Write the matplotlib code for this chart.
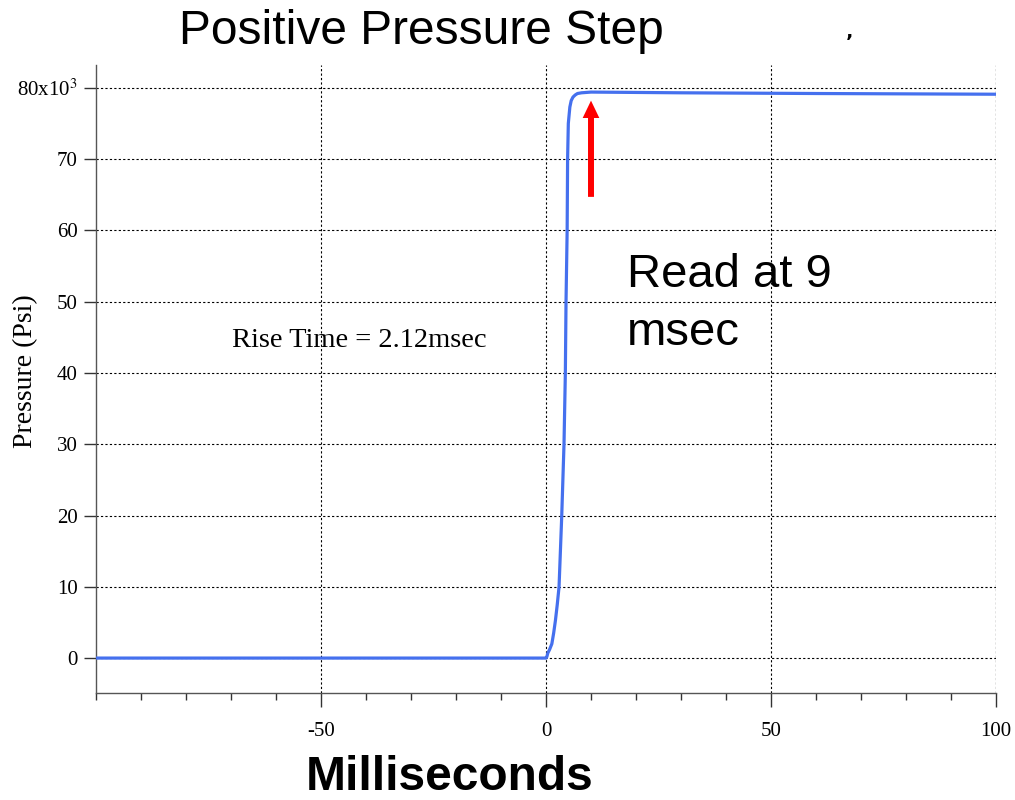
import numpy as np
import matplotlib
matplotlib.use('Agg')
import matplotlib.pyplot as plt
from matplotlib.ticker import MultipleLocator

# pressure trace (time in ms, pressure in kPsi)
time_ms = [-100, -50, 0, 0.2, 0.4, 0.8, 1.3, 1.7, 2.1, 2.5, 2.9, 3.5, 4.0, 4.3,
           4.45, 4.7, 4.8, 4.96, 5.3, 5.6, 6.0, 6.5, 7.0, 7.9, 10, 30, 60, 100]
pressure_k = [0, 0, 0, 0.2, 0.7, 1.2, 2.0, 3.5, 5.3, 7.5, 10, 20, 30, 40,
              50, 60, 70, 75, 77.3, 78.2, 78.7, 79.0, 79.2, 79.3, 79.4, 79.3, 79.2, 79.1]

y_ticks = [0, 10, 20, 30, 40, 50, 60, 70, 80]
y_labels = ['0', '10', '20', '30', '40', '50', '60', '70', '80x10$^3$']
x_ticks = [-50, 0, 50, 100]
x_labels = ['-50', '0', '50', '100']

arrow_x = 10
arrow_from = 64.7e3
arrow_to = 78.2e3

plt.rcParams['mathtext.fontset'] = 'stix'
serif = 'Liberation Serif'
sans = 'Liberation Sans'


def main():
    fig = plt.figure(figsize=(10.15, 8.0), dpi=100)
    ax = fig.add_axes([96/1015, 1-693/800, 900/1015, (693-65)/800])

    p = np.array(pressure_k) * 1000
    ax.plot(time_ms, p, color='#4570ee', lw=2.3, solid_joinstyle='round', zorder=3)

    ax.set_xlim(-100, 100)
    ax.set_ylim(-4.9e3, 83.2e3)

    ax.set_yticks(np.array(y_ticks) * 1000)
    ax.set_yticklabels(y_labels, family=serif, fontsize=15)
    ax.set_xticks(x_ticks)
    ax.set_xticklabels(x_labels, family=serif, fontsize=15)
    ax.xaxis.set_minor_locator(MultipleLocator(10))

    ax.tick_params(axis='y', direction='out', length=9, width=1, pad=4, color='#333333')
    ax.tick_params(axis='x', which='major', direction='out', length=10, width=1, pad=11, color='#333333')
    ax.tick_params(axis='x', which='minor', direction='out', length=5, width=1, color='#333333')

    for s in ['top', 'right']:
        ax.spines[s].set_visible(False)
    for s in ['left', 'bottom']:
        ax.spines[s].set_color('#555555')
        ax.spines[s].set_linewidth(1)

    ax.grid(True, which='major', linestyle=(0, (2, 2)), color='black', lw=0.8)
    ax.axvline(100, linestyle=(0, (2, 2)), color='black', lw=0.8)
    ax.set_axisbelow(True)

    ax.set_ylabel('Pressure (Psi)', family=serif, fontsize=20)
    ax.yaxis.set_label_coords((38 - 96) / 900, (693 - 371) / 628)

    ax.annotate('', xy=(arrow_x, arrow_to), xytext=(arrow_x, arrow_from),
                arrowprops=dict(arrowstyle='simple,head_length=1.25,head_width=1.2,tail_width=0.43',
                                mutation_scale=10, color='#ff0000', lw=0, shrinkA=0, shrinkB=0),
                zorder=4)

    ax.text(-69.8, 44.5e3, 'Rise Time = 2.12msec', family=serif, fontsize=20.5,
            ha='left', va='center')
    ax.text(18, 49.7e3, 'Read at 9\nmsec', family=sans, fontsize=34,
            ha='left', va='center', linespacing=1.4)

    fig.text(421/1015, 1-31/800, 'Positive Pressure Step', family=sans, fontsize=34.5,
             ha='center', va='center')
    fig.text(450/1015, 1-790/800, 'Milliseconds', family=sans, fontsize=34.5,
             fontweight='bold', ha='center', va='baseline')
    fig.text(850/1015, 1-42/800, '\u02bc', family='DejaVu Sans', fontsize=14,
             fontweight='bold', ha='center', va='center')

    fig.savefig('out.png', dpi=100)
    plt.close(fig)


if __name__ == "__main__":
    main()
